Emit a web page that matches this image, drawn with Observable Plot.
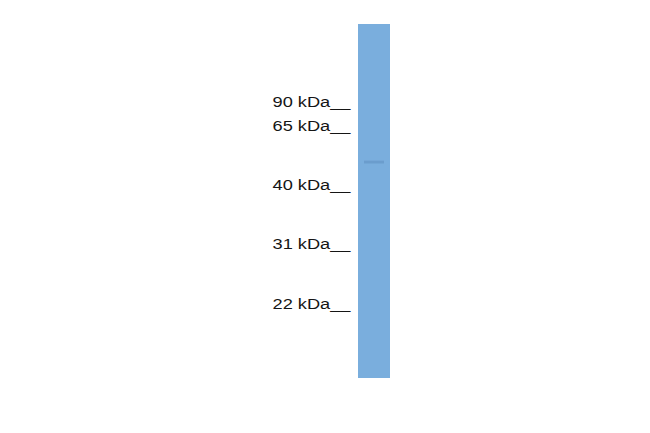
<!DOCTYPE html>
<html>
<head>
<meta charset="utf-8">
<script src="https://cdn.jsdelivr.net/npm/d3@7"></script>
<script src="https://cdn.jsdelivr.net/npm/@observablehq/plot@0.6"></script>
<style>
  html, body { margin: 0; padding: 0; background: #ffffff; }
  #chart svg { display: block; }
</style>
</head>
<body>
<div id="chart"></div>
<script>
// Molecular-weight ladder (kDa) and relative migration (0 = top of lane, 1 = bottom)
const markerLabels = ["90", "65", "40", "31", "22"];
const markerMigration = [0.219, 0.287, 0.454, 0.621, 0.789];
// Lanes
const lanes = ["Sample"];
// Detected band(s): relative migration and relative intensity
const bandMigration = [0.39];
const bandIntensity = [0.35];

const markers = markerLabels.map((k, i) => ({label: `${k} kDa__`, m: markerMigration[i]}));
const bands = bandMigration.map((m, i) => ({lane: lanes[0], m, v: bandIntensity[i]}));

const chart = Plot.plot({
  width: 650,
  height: 433,
  marginTop: 24,
  marginBottom: 55,
  marginLeft: 358,
  marginRight: 260,
  x: {type: "band", domain: lanes, padding: 0, axis: null},
  y: {domain: [0, 1], reverse: true, axis: null},
  style: {background: "#ffffff", fontFamily: "Liberation Sans, Arial, sans-serif"},
  marks: [
    Plot.rect(lanes, {x: d => d, y1: 0, y2: 1, fill: "#7aaedd"}),
    Plot.rect(bands, {
      x: "lane", y1: d => d.m - 0.004, y2: d => d.m + 0.004,
      insetLeft: 6, insetRight: 6,
      fill: "#4f7fae", fillOpacity: d => d.v
    }),
    Plot.text(markers, {
      y: "m", text: "label", frameAnchor: "left", textAnchor: "end",
      dx: -8, dy: 0, fontSize: 15.4, fill: "#151515",
      className: "mw-label"
    })
  ]
});
// Horizontally stretch the ladder labels like the original scan
d3.select(chart).selectAll(".mw-label text")
  .attr("textLength", 78)
  .attr("lengthAdjust", "spacingAndGlyphs");
document.getElementById("chart").appendChild(chart);
</script>
</body>
</html>
